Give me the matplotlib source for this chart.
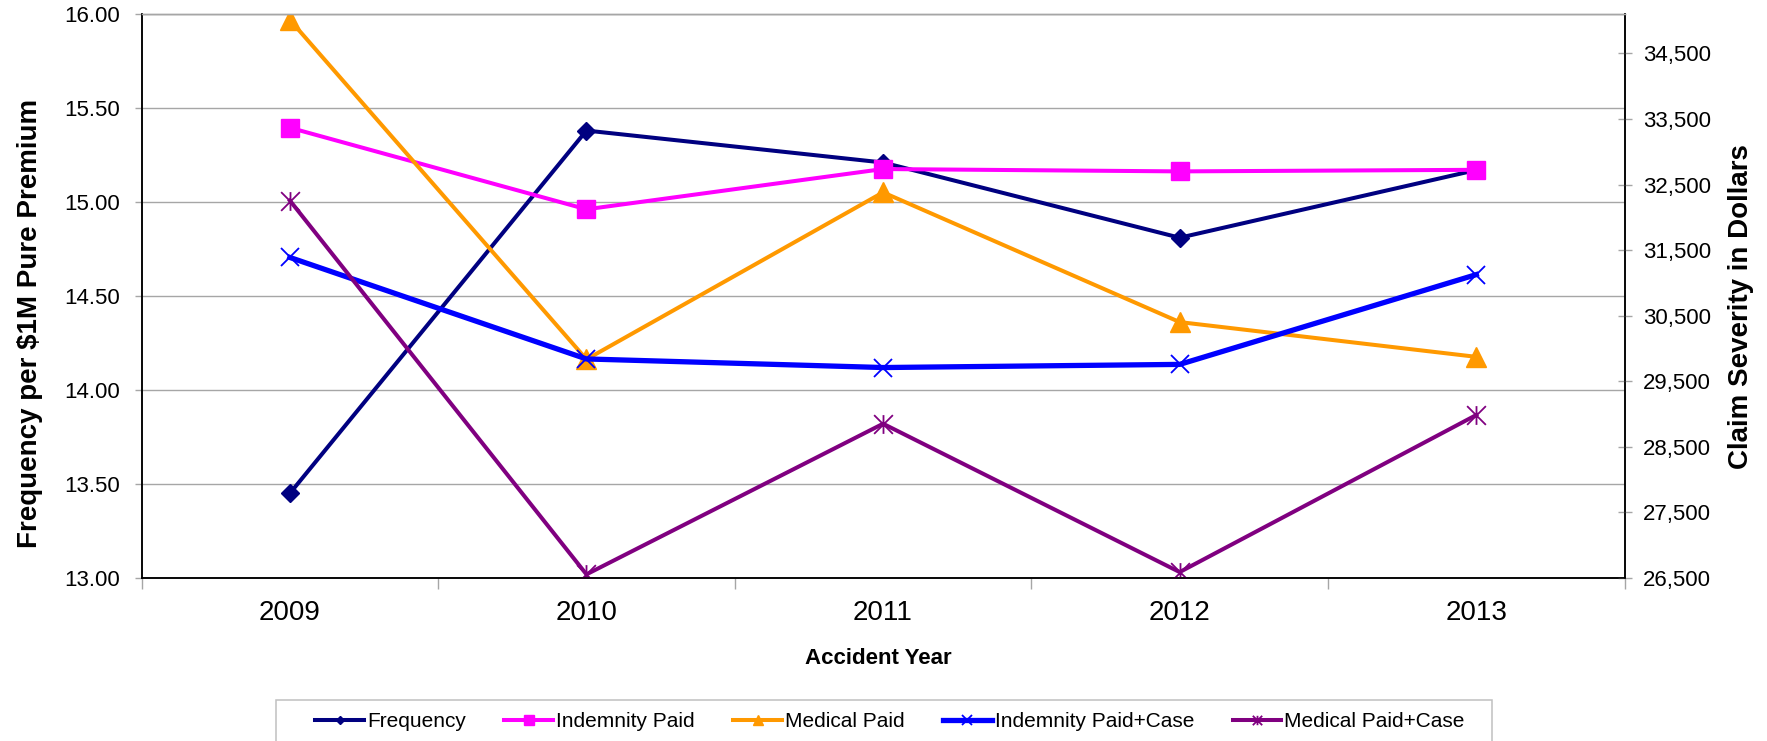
import matplotlib
matplotlib.use('Agg')
import matplotlib.pyplot as plt
from matplotlib.path import Path
from matplotlib.patches import Rectangle
from matplotlib.ticker import FuncFormatter

plt.rcParams['font.family'] = ['Liberation Sans', 'DejaVu Sans']

# data
years = ['2009', '2010', '2011', '2012', '2013']
frequency = [13.45, 15.38, 15.21, 14.81, 15.17]          # left axis
indemnity_paid = [33366, 32122, 32736, 32700, 32724]     # right axis
medical_paid = [35011, 29834, 32380, 30402, 29872]
indemnity_paid_case = [31388, 29840, 29709, 29757, 31126]
medical_paid_case = [32256, 26555, 28852, 26590, 28985]

left_ticks = [13.0, 13.5, 14.0, 14.5, 15.0, 15.5, 16.0]
right_ticks = [26500, 27500, 28500, 29500, 30500, 31500, 32500, 33500, 34500]

grey = '#a6a6a6'

# Excel style star: an x with a vertical bar
star = Path([(-1, -1), (1, 1), (-1, 1), (1, -1), (0, -1), (0, 1)],
            [Path.MOVETO, Path.LINETO, Path.MOVETO, Path.LINETO, Path.MOVETO, Path.LINETO])

fig = plt.figure(figsize=(17.67, 7.41), dpi=100)
ax = fig.add_axes([0.0801, 0.22, 0.8393, 0.7611])
ax2 = ax.twinx()

x = list(range(len(years)))

h1, = ax.plot(x, frequency, color='#000080', lw=2.9, marker='D', ms=9,
              label='Frequency')
h2, = ax2.plot(x, indemnity_paid, color='#ff00ff', lw=2.9, marker='s', ms=13.5,
               label='Indemnity Paid')
h3, = ax2.plot(x, medical_paid, color='#ff9900', lw=2.9, marker='^', ms=15,
               label='Medical Paid')
h4, = ax2.plot(x, indemnity_paid_case, color='#0000ff', lw=3.8, marker='x', ms=13.5,
               mew=1.3, label='Indemnity Paid+Case')
h5, = ax2.plot(x, medical_paid_case, color='#800080', lw=2.9, marker=star, ms=13.5,
               mew=1.3, label='Medical Paid+Case')

# x axis: labels at centres, ticks at category boundaries
ax.set_xlim(-0.5, len(years) - 0.5)
ax.set_xticks(x)
ax.set_xticklabels(years)
ax.set_xticks([i - 0.5 for i in range(len(years) + 1)], minor=True)
ax.tick_params(axis='x', which='major', length=0, pad=16, labelsize=20)
ax.tick_params(axis='x', which='minor', length=8, width=1, color=grey, direction='out')

ax.set_ylim(13, 16)
ax.set_yticks(left_ticks)
ax.yaxis.set_major_formatter(FuncFormatter(lambda v, p: '%.2f' % v))
ax.tick_params(axis='y', length=5, width=1, color=grey, direction='out',
               pad=10.5, labelsize=16)
ax.grid(axis='y', color=grey, lw=1)
ax.set_axisbelow(True)

ax2.set_ylim(26500, 35100)
ax2.set_yticks(right_ticks)
ax2.yaxis.set_major_formatter(FuncFormatter(lambda v, p: '{:,.0f}'.format(v)))
ax2.tick_params(axis='y', direction='inout', length=10, width=1, color=grey,
                pad=8, labelsize=16)

for a in (ax, ax2):
    for s in ('left', 'right', 'bottom'):
        a.spines[s].set_color('black')
        a.spines[s].set_linewidth(1.1)
    a.spines['top'].set_color(grey)
    a.spines['top'].set_linewidth(1)

ax.set_ylabel(r'Frequency per \$1M Pure Premium', fontsize=20, fontweight='bold', va='center')
ax.yaxis.set_label_coords(-0.0749, 0.452)
ax2.set_ylabel('Claim Severity in Dollars', fontsize=20, fontweight='bold', va='center')
ax2.yaxis.set_label_coords(1.0786, 0.482)
ax.set_xlabel('Accident Year', fontsize=16, fontweight='bold', va='center')
ax.xaxis.set_label_coords(0.497, -0.142)

leg = fig.legend([h1, h2, h3, h4, h5],
                 [h.get_label() for h in (h1, h2, h3, h4, h5)],
                 loc='upper center', bbox_to_anchor=(0.5037, 1 - 692 / 741),
                 ncol=5, fontsize=15, frameon=False, handlelength=2.33,
                 handletextpad=0.15, columnspacing=1.85, borderpad=0.45,
                 markerscale=0.5)

box = Rectangle((276 / 1767, -0.02), (1492 - 276) / 1767, 0.02 + 1 - 700 / 741,
                transform=fig.transFigure, fill=False, edgecolor='#c0c0c0',
                lw=1.1, clip_on=False)
fig.add_artist(box)

fig.savefig('out.png', dpi=100)
plt.close()
